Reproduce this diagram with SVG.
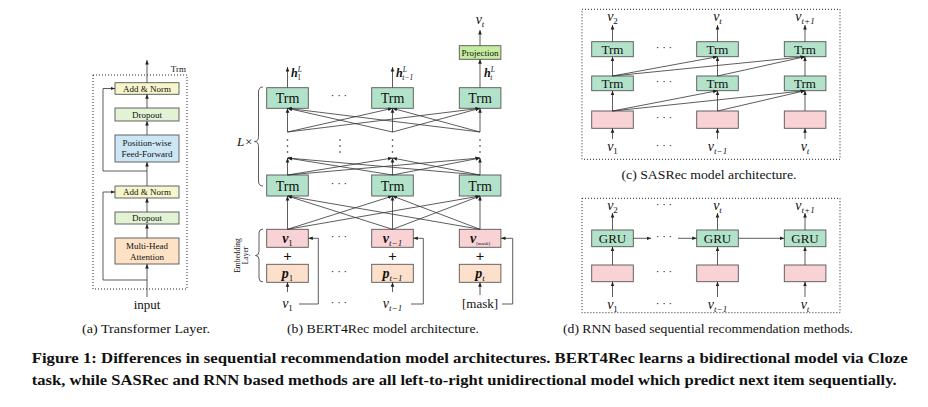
<svg xmlns="http://www.w3.org/2000/svg" width="928" height="407" viewBox="0 0 928 407" font-family="'Liberation Serif','Times New Roman',serif">
<defs>
<marker id="ah" viewBox="0 0 6 6" refX="6" refY="3" markerWidth="4.5" markerHeight="4.5" orient="auto" markerUnits="userSpaceOnUse"><path d="M0,0.6 L6,3 L0,5.4 z" fill="#222"/></marker>
<style>
text{font-family:"Liberation Serif","Times New Roman",serif;fill:#111}
.ln{stroke:#333;stroke-width:0.8;fill:none}
.ar{stroke:#333;stroke-width:0.8;fill:none;marker-end:url(#ah)}
.box{stroke:#555;stroke-width:0.9}
.trm{fill:#b2e2c9}
.pink{fill:#f8d2d4}
.peach{fill:#fde0cc}
.dot{stroke:#222;stroke-width:1;fill:none;stroke-dasharray:1 2}
.s9{font-size:9px}
.lbl{font-size:14px;font-style:italic}
.cap{font-size:13px}
.dots{font-size:11px}
</style>
</defs>
<rect width="928" height="407" fill="#fff"/>

<!-- Panel (a) -->
<g id="panel-a">
<rect class="dot" x="93" y="75" width="94" height="214"/>
<text class="s9" x="186" y="72" text-anchor="end">Trm</text>
<g id="a-addnorm2"><rect class="box" x="115" y="82.7" width="64" height="11.6" fill="#f6f5cc"/><text class="s9" x="147" y="91.6" text-anchor="middle">Add &amp; Norm</text></g>
<g id="a-dropout2"><rect class="box" x="115" y="108" width="64" height="13" fill="#e2f2d4"/><text class="s9" x="147" y="117.5" text-anchor="middle">Dropout</text></g>
<g id="a-ffn"><rect class="box" x="115" y="135" width="64" height="27" fill="#cce6f5"/><text class="s9" x="147" y="146" text-anchor="middle">Position-wise</text><text class="s9" x="147" y="157" text-anchor="middle">Feed-Forward</text></g>
<g id="a-addnorm1"><rect class="box" x="115" y="186" width="64" height="12" fill="#f6f5cc"/><text class="s9" x="147" y="195" text-anchor="middle">Add &amp; Norm</text></g>
<g id="a-dropout1"><rect class="box" x="115" y="212" width="64" height="12" fill="#e2f2d4"/><text class="s9" x="147" y="221" text-anchor="middle">Dropout</text></g>
<g id="a-mha"><rect class="box" x="115" y="238" width="64" height="26" fill="#fde2c6"/><text class="s9" x="147" y="249" text-anchor="middle">Multi-Head</text><text class="s9" x="147" y="260" text-anchor="middle">Attention</text></g>
<text x="147" y="309" font-size="13" text-anchor="middle">input</text>
</g>
<g id="a-connectors">
<path class="ar" d="M147,297 L147,264"/>
<path class="ar" d="M147,238 L147,224"/>
<path class="ar" d="M147,212 L147,198"/>
<path class="ar" d="M147,186 L147,162"/>
<path class="ar" d="M147,135 L147,121"/>
<path class="ar" d="M147,108 L147,94.3"/>
<path class="ar" d="M147,82.7 L147,60"/>
<path class="ar" d="M147,280 L103,280 L103,192 L115,192"/>
<path class="ar" d="M147,171 L103,171 L103,88.5 L115,88.5"/>
</g>

<!-- Panel (b) -->
<g id="panel-b">
<g id="b-trm-top-1"><rect class="box trm" x="266.7" y="87.7" width="41.6" height="20.6"/><text x="287.5" y="103" font-size="14" text-anchor="middle">Trm</text></g>
<g id="b-trm-top-2"><rect class="box trm" x="371.7" y="87.7" width="41.6" height="20.6"/><text x="392.5" y="103" font-size="14" text-anchor="middle">Trm</text></g>
<g id="b-trm-top-3"><rect class="box trm" x="459.3" y="87.7" width="41.6" height="20.6"/><text x="480" y="103" font-size="14" text-anchor="middle">Trm</text></g>
<g id="b-trm-bot-1"><rect class="box trm" x="266.7" y="175" width="41.6" height="21"/><text x="287.5" y="190.5" font-size="14" text-anchor="middle">Trm</text></g>
<g id="b-trm-bot-2"><rect class="box trm" x="371.7" y="175" width="41.6" height="21"/><text x="392.5" y="190.5" font-size="14" text-anchor="middle">Trm</text></g>
<g id="b-trm-bot-3"><rect class="box trm" x="459.3" y="175" width="41.6" height="21"/><text x="480" y="190.5" font-size="14" text-anchor="middle">Trm</text></g>
<g id="b-proj"><rect class="box" x="459.3" y="45.7" width="41.6" height="13.6" fill="#c6ec9f"/><text x="480" y="55.6" font-size="9" text-anchor="middle">Projection</text></g>
<g id="b-v1"><rect class="box pink" x="266.7" y="229.3" width="41.6" height="18"/><text x="287.5" y="243" font-size="14" font-style="italic" font-weight="bold" text-anchor="middle">v<tspan font-size="9" font-weight="normal" font-style="normal" dy="2.5">1</tspan></text></g>
<g id="b-v2"><rect class="box pink" x="371.7" y="229.3" width="41.6" height="18"/><text x="392.5" y="243" font-size="14" font-style="italic" font-weight="bold" text-anchor="middle">v<tspan font-size="9" font-weight="normal" dy="2.5">t−1</tspan></text></g>
<g id="b-v3"><rect class="box pink" x="459.3" y="229.3" width="41.6" height="18"/><text x="480" y="243" font-size="14" font-style="italic" font-weight="bold" text-anchor="middle">v<tspan font-size="5" font-weight="normal" font-style="normal" dy="2">[mask]</tspan></text></g>
<g id="b-p1"><rect class="box peach" x="266.7" y="264.3" width="41.6" height="18"/><text x="287.5" y="278" font-size="14" font-style="italic" font-weight="bold" text-anchor="middle">p<tspan font-size="9" font-weight="normal" font-style="normal" dy="2.5">1</tspan></text></g>
<g id="b-p2"><rect class="box peach" x="371.7" y="264.3" width="41.6" height="18"/><text x="392.5" y="278" font-size="14" font-style="italic" font-weight="bold" text-anchor="middle">p<tspan font-size="9" font-weight="normal" dy="2.5">t−1</tspan></text></g>
<g id="b-p3"><rect class="box peach" x="459.3" y="264.3" width="41.6" height="18"/><text x="480" y="278" font-size="14" font-style="italic" font-weight="bold" text-anchor="middle">p<tspan font-size="9" font-weight="normal" dy="2.5">t</tspan></text></g>
<text x="287.5" y="261" font-size="15" font-weight="bold" text-anchor="middle">+</text>
<text x="392.5" y="261" font-size="15" font-weight="bold" text-anchor="middle">+</text>
<text x="480" y="261" font-size="15" font-weight="bold" text-anchor="middle">+</text>
<text class="lbl" x="287.5" y="308" text-anchor="middle">v<tspan font-size="9" font-style="normal" dy="2.5">1</tspan></text>
<text class="lbl" x="392.5" y="308" text-anchor="middle">v<tspan font-size="9" dy="2.5">t−1</tspan></text>
<text x="480" y="308" font-size="13" text-anchor="middle">[mask]</text>
<text class="lbl" x="480" y="24" text-anchor="middle">v<tspan font-size="9" dy="2.5">t</tspan></text>
<text x="291" y="77" font-size="12" font-style="italic" font-weight="bold">h<tspan font-size="7.5" font-weight="normal" dy="-5">L</tspan><tspan font-size="7.5" font-weight="normal" font-style="normal" dx="-4.5" dy="8">1</tspan></text>
<text x="396" y="77" font-size="12" font-style="italic" font-weight="bold">h<tspan font-size="7.5" font-weight="normal" dy="-5">L</tspan><tspan font-size="7.5" font-weight="normal" dx="-4.5" dy="8">t−1</tspan></text>
<text x="484" y="77" font-size="12" font-style="italic" font-weight="bold">h<tspan font-size="7.5" font-weight="normal" dy="-5">L</tspan><tspan font-size="7.5" font-weight="normal" dx="-4.5" dy="8">t</tspan></text>
<g class="dots">
<text x="339" y="99" text-anchor="middle">· · ·</text>
<text x="339" y="187" text-anchor="middle">· · ·</text>
<text x="339" y="240" text-anchor="middle">· · ·</text>
<text x="339" y="275" text-anchor="middle">· · ·</text>
<text x="339" y="306" text-anchor="middle">· · ·</text>
</g>
<g fill="#222">
<circle cx="287.5" cy="140" r="0.8"/><circle cx="287.5" cy="146" r="0.8"/><circle cx="287.5" cy="152" r="0.8"/>
<circle cx="340" cy="140" r="0.8"/><circle cx="340" cy="146" r="0.8"/><circle cx="340" cy="152" r="0.8"/>
<circle cx="392.5" cy="140" r="0.8"/><circle cx="392.5" cy="146" r="0.8"/><circle cx="392.5" cy="152" r="0.8"/>
<circle cx="480" cy="140" r="0.8"/><circle cx="480" cy="146" r="0.8"/><circle cx="480" cy="152" r="0.8"/>
</g>
<path class="ln" d="M263,87 Q258.5,87 258.5,92 L258.5,136.5 Q258.5,141.5 254.5,141.5 Q258.5,141.5 258.5,146.5 L258.5,181 Q258.5,186 263,186"/>
<text x="237" y="146" font-size="13" font-style="italic">L×</text>
<path class="ln" d="M263,229 Q259,229 259,233 L259,251.5 Q259,255.5 255.5,255.5 Q259,255.5 259,259.5 L259,278 Q259,282 263,282"/>
<text font-size="7.5" text-anchor="middle" transform="translate(239.5,255.5) rotate(-90)">Embedding</text>
<text font-size="7.5" text-anchor="middle" transform="translate(248,255.5) rotate(-90)">Layer</text>
</g>
<g id="b-connectors">
<path class="ar" d="M287.5,229.3 L287.5,196"/><path class="ar" d="M287.5,229.3 L392.5,196"/><path class="ar" d="M287.5,229.3 L480,196"/>
<path class="ar" d="M392.5,229.3 L287.5,196"/><path class="ar" d="M392.5,229.3 L392.5,196"/><path class="ar" d="M392.5,229.3 L480,196"/>
<path class="ar" d="M480,229.3 L287.5,196"/><path class="ar" d="M480,229.3 L392.5,196"/><path class="ar" d="M480,229.3 L480,196"/>
<path class="ar" d="M287.5,175 L287.5,158"/><path class="ar" d="M287.5,175 L392.5,158"/><path class="ar" d="M287.5,175 L480,158"/>
<path class="ar" d="M392.5,175 L287.5,158"/><path class="ar" d="M392.5,175 L392.5,158"/><path class="ar" d="M392.5,175 L480,158"/>
<path class="ar" d="M480,175 L287.5,158"/><path class="ar" d="M480,175 L392.5,158"/><path class="ar" d="M480,175 L480,158"/>
<path class="ar" d="M287.5,132 L287.5,108.3"/><path class="ar" d="M287.5,132 L392.5,108.3"/><path class="ar" d="M287.5,132 L480,108.3"/>
<path class="ar" d="M392.5,132 L287.5,108.3"/><path class="ar" d="M392.5,132 L392.5,108.3"/><path class="ar" d="M392.5,132 L480,108.3"/>
<path class="ar" d="M480,132 L287.5,108.3"/><path class="ar" d="M480,132 L392.5,108.3"/><path class="ar" d="M480,132 L480,108.3"/>
<path class="ar" d="M287.5,87.7 L287.5,67"/>
<path class="ar" d="M392.5,87.7 L392.5,67"/>
<path class="ar" d="M480,87.7 L480,59.3"/>
<path class="ar" d="M480,45.7 L480,30"/>
<path class="ar" d="M287.5,292 L287.5,282.3"/>
<path class="ar" d="M392.5,292 L392.5,282.3"/>
<path class="ar" d="M480,295 L480,282.3"/>
<path class="ar" d="M299,304 L318.3,304 L318.3,238.3 L308.3,238.3"/>
<path class="ar" d="M411,304 L423.3,304 L423.3,238.3 L413.3,238.3"/>
<path class="ar" d="M502,304 L512.7,304 L512.7,238.3 L501,238.3"/>
</g>

<!-- Panel (c) -->
<g id="panel-c">
<rect class="dot" x="582" y="9.3" width="258" height="150"/>
<g id="c-trm-top-1"><rect class="box trm" x="591.7" y="41.7" width="41.6" height="15"/><text x="612.5" y="53.6" font-size="13" text-anchor="middle">Trm</text></g>
<g id="c-trm-top-2"><rect class="box trm" x="696.7" y="41.7" width="41.6" height="15"/><text x="717.5" y="53.6" font-size="13" text-anchor="middle">Trm</text></g>
<g id="c-trm-top-3"><rect class="box trm" x="784.3" y="41.7" width="41.6" height="15"/><text x="805" y="53.6" font-size="13" text-anchor="middle">Trm</text></g>
<g id="c-trm-mid-1"><rect class="box trm" x="591.7" y="76" width="41.6" height="14.7"/><text x="612.5" y="87.8" font-size="13" text-anchor="middle">Trm</text></g>
<g id="c-trm-mid-2"><rect class="box trm" x="696.7" y="76" width="41.6" height="14.7"/><text x="717.5" y="87.8" font-size="13" text-anchor="middle">Trm</text></g>
<g id="c-trm-mid-3"><rect class="box trm" x="784.3" y="76" width="41.6" height="14.7"/><text x="805" y="87.8" font-size="13" text-anchor="middle">Trm</text></g>
<rect id="c-emb-1" class="box pink" x="591.7" y="111" width="41.6" height="17.3"/>
<rect id="c-emb-2" class="box pink" x="696.7" y="111" width="41.6" height="17.3"/>
<rect id="c-emb-3" class="box pink" x="784.3" y="111" width="41.6" height="17.3"/>
<text class="lbl" x="612.5" y="21" text-anchor="middle">v<tspan font-size="9" font-style="normal" dy="2.5">2</tspan></text>
<text class="lbl" x="717.5" y="21" text-anchor="middle">v<tspan font-size="9" dy="2.5">t</tspan></text>
<text class="lbl" x="805" y="21" text-anchor="middle">v<tspan font-size="9" dy="2.5">t+1</tspan></text>
<text class="lbl" x="612.5" y="151" text-anchor="middle">v<tspan font-size="9" font-style="normal" dy="2.5">1</tspan></text>
<text class="lbl" x="717.5" y="151" text-anchor="middle">v<tspan font-size="9" dy="2.5">t−1</tspan></text>
<text class="lbl" x="805" y="151" text-anchor="middle">v<tspan font-size="9" dy="2.5">t</tspan></text>
<g class="dots">
<text x="664" y="51" text-anchor="middle">· · ·</text>
<text x="664" y="85" text-anchor="middle">· · ·</text>
<text x="664" y="121" text-anchor="middle">· · ·</text>
<text x="664" y="149" text-anchor="middle">· · ·</text>
</g>
</g>
<g id="c-connectors">
<path class="ar" d="M612.5,139 L612.5,128.3"/><path class="ar" d="M717.5,139 L717.5,128.3"/><path class="ar" d="M805,139 L805,128.3"/>
<path class="ar" d="M612.5,111 L612.5,90.7"/><path class="ar" d="M612.5,111 L717.5,90.7"/><path class="ar" d="M612.5,111 L805,90.7"/>
<path class="ar" d="M717.5,111 L717.5,90.7"/><path class="ar" d="M717.5,111 L805,90.7"/><path class="ar" d="M805,111 L805,90.7"/>
<path class="ar" d="M612.5,76 L612.5,56.7"/><path class="ar" d="M612.5,76 L717.5,56.7"/><path class="ar" d="M612.5,76 L805,56.7"/>
<path class="ar" d="M717.5,76 L717.5,56.7"/><path class="ar" d="M717.5,76 L805,56.7"/><path class="ar" d="M805,76 L805,56.7"/>
<path class="ar" d="M612.5,41.7 L612.5,25"/><path class="ar" d="M717.5,41.7 L717.5,25"/><path class="ar" d="M805,41.7 L805,25"/>
</g>
<text class="cap" x="709" y="179" text-anchor="middle" textLength="175" lengthAdjust="spacingAndGlyphs">(c) SASRec model architecture.</text>

<!-- Panel (d) -->
<g id="panel-d">
<rect class="dot" x="582" y="198.3" width="258" height="114.4"/>
<g id="d-gru-1"><rect class="box trm" x="591.7" y="230" width="41.6" height="16.7"/><text x="612.5" y="243" font-size="13" text-anchor="middle">GRU</text></g>
<g id="d-gru-2"><rect class="box trm" x="696.7" y="230" width="41.6" height="16.7"/><text x="717.5" y="243" font-size="13" text-anchor="middle">GRU</text></g>
<g id="d-gru-3"><rect class="box trm" x="784.3" y="230" width="41.6" height="16.7"/><text x="805" y="243" font-size="13" text-anchor="middle">GRU</text></g>
<rect id="d-emb-1" class="box pink" x="591.7" y="265" width="41.6" height="16.7"/>
<rect id="d-emb-2" class="box pink" x="696.7" y="265" width="41.6" height="16.7"/>
<rect id="d-emb-3" class="box pink" x="784.3" y="265" width="41.6" height="16.7"/>
<text class="lbl" x="612.5" y="210" text-anchor="middle">v<tspan font-size="9" font-style="normal" dy="2.5">2</tspan></text>
<text class="lbl" x="717.5" y="210" text-anchor="middle">v<tspan font-size="9" dy="2.5">t</tspan></text>
<text class="lbl" x="805" y="210" text-anchor="middle">v<tspan font-size="9" dy="2.5">t+1</tspan></text>
<text class="lbl" x="612.5" y="309" text-anchor="middle">v<tspan font-size="9" font-style="normal" dy="2.5">1</tspan></text>
<text class="lbl" x="717.5" y="309" text-anchor="middle">v<tspan font-size="9" dy="2.5">t−1</tspan></text>
<text class="lbl" x="805" y="309" text-anchor="middle">v<tspan font-size="9" dy="2.5">t</tspan></text>
<g class="dots">
<text x="664" y="208" text-anchor="middle">· · ·</text>
<text x="664" y="240" text-anchor="middle">· · ·</text>
<text x="664" y="275" text-anchor="middle">· · ·</text>
<text x="664" y="307" text-anchor="middle">· · ·</text>
</g>
</g>
<g id="d-connectors">
<path class="ar" d="M612.5,297 L612.5,281.7"/><path class="ar" d="M717.5,297 L717.5,281.7"/><path class="ar" d="M805,297 L805,281.7"/>
<path class="ar" d="M612.5,265 L612.5,246.7"/><path class="ar" d="M717.5,265 L717.5,246.7"/><path class="ar" d="M805,265 L805,246.7"/>
<path class="ar" d="M612.5,230 L612.5,213"/><path class="ar" d="M717.5,230 L717.5,213"/><path class="ar" d="M805,230 L805,213"/>
<path class="ar" d="M633.3,238.3 L651,238.3"/>
<path class="ar" d="M678,238.3 L696.7,238.3"/>
<path class="ar" d="M738.3,238.3 L784.3,238.3"/>
</g>

<!-- Captions -->
<text class="cap" x="146" y="333" text-anchor="middle" textLength="128" lengthAdjust="spacingAndGlyphs">(a) Transformer Layer.</text>
<text class="cap" x="383" y="333" text-anchor="middle" textLength="192" lengthAdjust="spacingAndGlyphs">(b) BERT4Rec model architecture.</text>
<text class="cap" x="708" y="333" text-anchor="middle" textLength="290" lengthAdjust="spacingAndGlyphs">(d) RNN based sequential recommendation methods.</text>
<text x="31.7" y="363" font-size="14.5" font-weight="bold" textLength="876" lengthAdjust="spacingAndGlyphs">Figure 1: Differences in sequential recommendation model architectures. BERT4Rec learns a bidirectional model via Cloze</text>
<text x="31.7" y="385" font-size="14.5" font-weight="bold" textLength="865" lengthAdjust="spacingAndGlyphs">task, while SASRec and RNN based methods are all left-to-right unidirectional model which predict next item sequentially.</text>
</svg>
